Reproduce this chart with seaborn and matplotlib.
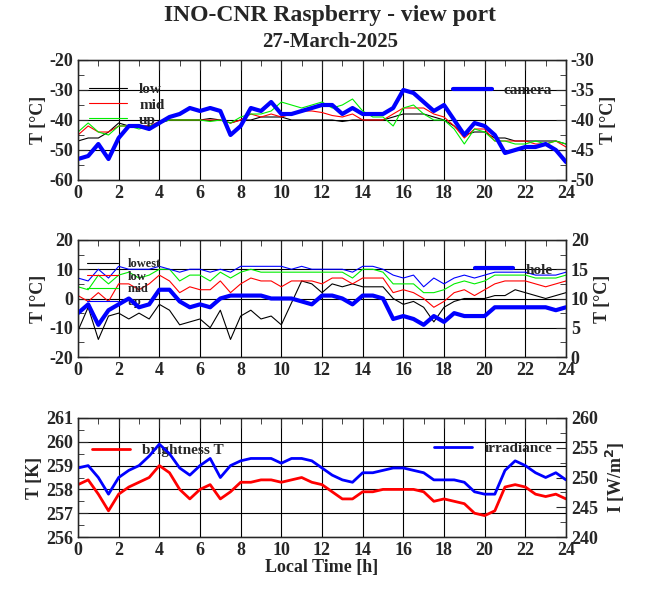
import matplotlib
matplotlib.use("Agg")
import matplotlib.pyplot as plt
from matplotlib.ticker import MultipleLocator
import numpy as np
import pandas as pd
import seaborn as sns

hours = [i * 0.5 for i in range(49)]

# panel 1, left axis [°C]
low1 = [-47, -46, -46, -44, -41, -42, -42, -42, -41, -40, -40, -40, -40, -39.5, -40, -41, -40, -40, -39, -39,
        -39, -40, -40, -40, -40, -40, -40.5, -40, -40, -40, -40, -39, -38, -38, -38, -39, -40, -42, -45, -44,
        -44, -46, -46, -47, -47, -47, -47, -47, -48]
mid1 = [-45, -42, -44, -44, -42, -42, -42, -42, -40.5, -40, -40, -40, -40, -40, -40, -41, -40, -38, -39, -38,
        -39, -38, -37, -37, -37.5, -38.5, -39, -38, -40, -40, -40, -38, -36, -36, -36, -38, -39, -42, -46, -43,
        -43, -47, -47, -47, -47, -48, -48, -47, -49]
up1 = [-44, -41, -44, -45, -42, -42, -43, -42, -41, -40, -40, -40, -40, -40.5, -40, -41, -39, -38, -38, -37,
       -34, -35, -36, -35, -34, -36, -35, -33, -37, -39, -39, -42, -36, -35, -38, -40, -40, -43, -48, -43,
       -44, -47, -47, -48, -48, -47, -48, -47, -48]
# panel 1, right axis
camera = [-46.5, -46, -44, -46.5, -43, -41, -41, -41.5, -40.5, -39.5, -39, -38, -38.5, -38, -38.5, -42.5, -41,
          -38, -38.5, -37, -39, -39, -38.5, -38, -37.5, -37.5, -39, -38, -39, -39, -39, -38, -35, -35.5, -37,
          -38.5, -37.5, -40, -42.5, -40.5, -41, -42.5, -45.5, -45, -44.5, -44.5, -44, -45, -47]

# panel 2, left axis
lowest = [-11, -3, -14, -6, -5, -7, -5, -7, -2, -4, -9, -8, -7, -10, -4, -14, -6, -4, -7, -6,
          -9, np.nan, 6, 5, 2, 5, 4, 5, 4, 4, 4, 0, -2, -1, -3, -8, -3, -1, 0, 0,
          0, 1, 1, 3, 2, 1, 0, 1, 2]
low2 = [1, -1, 2, -1, 5, 5, 3, 5, 8, 6, 2, 4, 3, 3, 6, 2, 5, 7, 6, 6, 4, 6, 6, 6, 5, 7, 7, 5, 7, 7, 7, 2,
        3, 2, 0, -3, -1, 2, 3, 1, 3, 5, 6, 6, 6, 5, 4, 5, 6]
mid2 = [4, 3, 8, 5, 8, 9, 7, 8, 10, 10, 6, 8, 8, 6, 9, 7, 9, 10, 9, 9, 9, 9, 9, 9, 9, 9, 9, 7, 10, 10, 9, 5,
        5, 5, 2, 2, 3, 5, 6, 5, 6, 8, 8, 8, 8, 7, 7, 7, 8]
up2 = [7, 6, 10, 7, 11, 10, 10, 10, 11, 10, 9, 10, 10, 9, 10, 9, 11, 11, 11, 11, 11, 10, 11, 10, 10, 10, 10,
       9, 11, 11, 10, 8, 7, 8, 4, 7, 5, 7, 8, 7, 8, 9, 9, 9, 9, 8, 8, 8, 9]
# panel 2, right axis
hole = [7.5, 9, 5.5, 8, 9, 10, 8.5, 9, 11.5, 11.5, 9.5, 8.5, 9, 8.5, 10, 10.5, 10.5, 10.5, 10.5, 10, 10, 10,
        9.5, 9, 10.5, 10.5, 10, 9, 10.5, 10.5, 10, 6.5, 7, 6.5, 5.5, 7, 6, 7.5, 7, 7, 7, 8.5, 8.5, 8.5, 8.5,
        8.5, 8.5, 8, 8.5]

# panel 3
bright = [258.2, 258.4, 257.8, 257.1, 257.8, 258.1, 258.3, 258.5, 259.0, 258.7, 258.0, 257.6, 258.0, 258.2,
          257.6, 257.9, 258.3, 258.3, 258.4, 258.4, 258.3, 258.4, 258.5, 258.3, 258.2, 257.9, 257.6, 257.6,
          257.9, 257.9, 258.0, 258.0, 258.0, 258.0, 257.9, 257.5, 257.6, 257.5, 257.4, 257.0, 256.9, 257.1,
          258.1, 258.2, 258.1, 257.8, 257.7, 257.8, 257.6]
irrad = [251.6, 252, 250, 247.2, 250, 251.2, 252, 253.6, 255.6, 254, 251.6, 250.4, 252, 253.2, 250, 252,
         252.8, 253.2, 253.2, 253.2, 252.4, 253.2, 253.2, 252.8, 251.6, 250.4, 249.6, 249.2, 250.8, 250.8,
         251.2, 251.6, 251.6, 251.2, 250.8, 249.6, 249.6, 249.6, 249.2, 247.6, 247.2, 247.2, 251.2, 252.8,
         252, 250.8, 250, 250.8, 249.6]

sns.set_style("white")
plt.rcParams['font.family'] = ['Liberation Serif', 'DejaVu Serif']
plt.rcParams['font.weight'] = 'bold'
plt.rcParams['font.size'] = 13
plt.rcParams['axes.unicode_minus'] = False

fig = plt.figure(figsize=(6.6, 5.95), dpi=100)
W, H = 660, 595


def box(top, bottom):
    return [78 / W, 1 - bottom / H, (566 - 78) / W, (bottom - top) / H]


def style(ax, ylim, ymaj, ymin):
    ax.set_xlim(0, 24)
    ax.set_ylim(*ylim)
    ax.xaxis.set_major_locator(MultipleLocator(2))
    ax.xaxis.set_minor_locator(MultipleLocator(1))
    ax.yaxis.set_major_locator(MultipleLocator(ymaj))
    ax.yaxis.set_minor_locator(MultipleLocator(ymin))
    ax.tick_params(which='both', direction='in', top=True, labelsize=13)
    ax.tick_params(which='major', length=7)
    ax.tick_params(which='minor', length=4)
    ax.grid(True, which='major', color='black', linewidth=0.8)
    for s in ax.spines.values():
        s.set_color('black')
        s.set_linewidth(1)
    ax.set_xlabel('')


def right_axis(ax, ylim, label):
    ax.set_ylim(*ylim)
    ax.yaxis.set_major_locator(MultipleLocator(5))
    ax.yaxis.set_minor_locator(MultipleLocator(2.5))
    ax.tick_params(which='both', direction='in', labelsize=13)
    ax.tick_params(which='major', length=7)
    ax.tick_params(which='minor', length=4)
    ax.set_ylabel(label, fontsize=13, fontweight='bold')
    ax.legend(loc='upper right', bbox_to_anchor=(1.0, 0.92), frameon=False, fontsize=11, handlelength=2.5)


# panel 1
ax1 = fig.add_axes(box(60, 180))
for vals, col, lab in [(low1, 'black', 'low'), (mid1, 'red', 'mid'), (up1, '#00ee00', 'up')]:
    sns.lineplot(x=hours, y=vals, color=col, lw=0.8, ax=ax1, label=lab)
style(ax1, (-60, -20), 10, 5)
ax1.set_ylabel('T [°C]', fontsize=13, fontweight='bold', labelpad=2)
ax1.legend(loc='upper left', bbox_to_anchor=(0.0, 0.9), frameon=False, fontsize=11, handlelength=2.5,
           labelspacing=0.1, borderpad=0.2)
ax1b = ax1.twinx()
sns.lineplot(x=hours, y=camera, color='blue', lw=3, ax=ax1b, label='camera')
right_axis(ax1b, (-50, -30), 'T [°C]')

# panel 2
ax2 = fig.add_axes(box(240, 357))
for vals, col, lab in [(lowest, 'black', 'lowest'), (low2, 'red', 'low'), (mid2, '#00ee00', 'mid'),
                       (up2, 'blue', 'up')]:
    sns.lineplot(x=hours, y=vals, color=col, lw=0.8, ax=ax2, label=lab)
style(ax2, (-20, 20), 10, 5)
ax2.set_ylabel('T [°C]', fontsize=13, fontweight='bold', labelpad=2)
ax2.legend(loc='upper left', bbox_to_anchor=(0.0, 0.92), frameon=False, fontsize=9, handlelength=2.5,
           labelspacing=0.05, borderpad=0.2)
ax2b = ax2.twinx()
sns.lineplot(x=hours, y=hole, color='blue', lw=3, ax=ax2b, label='hole')
right_axis(ax2b, (0, 20), 'T [°C]')

# panel 3
ax3 = fig.add_axes(box(418, 537))
sns.lineplot(x=hours, y=bright, color='red', lw=2, ax=ax3, label='brightness T')
style(ax3, (256, 261), 1, 0.5)
ax3.set_ylabel('T [K]', fontsize=13, fontweight='bold', labelpad=2)
ax3.set_xlabel('Local Time [h]', fontsize=13, fontweight='bold', labelpad=0)
ax3.legend(loc='upper left', bbox_to_anchor=(0.0, 0.9), frameon=False, fontsize=11, handlelength=2.5)
ax3b = ax3.twinx()
sns.lineplot(x=hours, y=irrad, color='blue', lw=2, ax=ax3b, label='irradiance')
right_axis(ax3b, (240, 260), 'I [W/m$^2$]')

fig.text(0.5, 1 - 15 / H, 'INO-CNR Raspberry - view port', ha='center', va='center', fontsize=17,
         fontweight='bold')
fig.text(0.5, 1 - 42 / H, '27-March-2025', ha='center', va='center', fontsize=15, fontweight='bold')

fig.savefig('out.png', dpi=100)
